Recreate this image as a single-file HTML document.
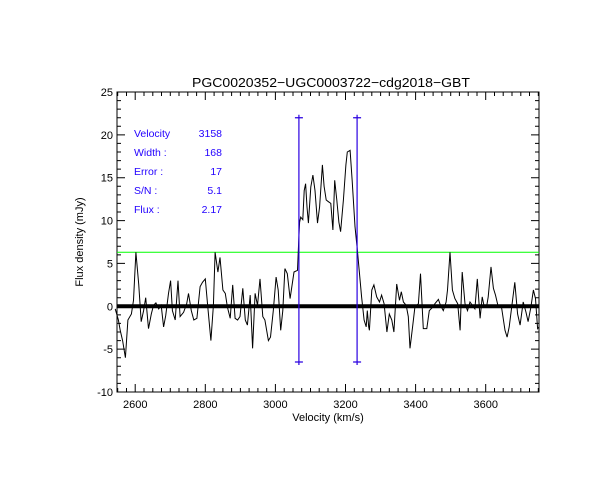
<!DOCTYPE html>
<html><head><meta charset="utf-8"><style>
body{margin:0;background:#fff;}
svg{display:block;font-family:"Liberation Sans",sans-serif;}
</style></head><body>
<svg id="chart" width="612" height="500" viewBox="0 0 612 500">
<rect x="0" y="0" width="612" height="500" fill="#fff"/>
<text x="331" y="87" text-anchor="middle" font-size="13" textLength="278" lengthAdjust="spacingAndGlyphs">PGC0020352−UGC0003722−cdg2018−GBT</text>
<text x="0" y="0" transform="translate(83,242) rotate(-90)" text-anchor="middle" font-size="11">Flux density (mJy)</text>
<text x="328" y="421" text-anchor="middle" font-size="11">Velocity (km/s)</text>
<g id="axes"></g>
<g id="marks"></g>
<g id="legend" font-size="10.5" fill="#2200ff"></g>
</svg>
<script>
const velocities=[2543,2552,2557,2564,2572,2579,2589,2595,2602,2610,2617,2624,2630,2638,2646,2652,2659,2667,2674,2681,2687,2695,2701,2706,2714,2722,2728,2738,2747,2752,2760,2767,2776,2785,2792,2800,2807,2816,2823,2828,2836,2842,2850,2857,2863,2871,2878,2885,2892,2899,2907,2914,2920,2928,2935,2942,2949,2956,2964,2970,2980,2986,2994,3002,3008,3015,3021,3027,3034,3042,3053,3063,3066,3069,3072,3078,3082,3086,3090,3094,3101,3107,3113,3120,3126,3134,3139,3145,3151,3158,3164,3169,3175,3181,3186,3194,3201,3205,3213,3219,3227,3234,3240,3246,3253,3259,3262,3266,3268,3275,3281,3289,3297,3303,3310,3318,3325,3332,3338,3346,3354,3359,3365,3373,3379,3384,3392,3398,3408,3414,3422,3432,3439,3449,3455,3465,3471,3479,3487,3491,3498,3505,3512,3520,3527,3533,3541,3548,3555,3562,3569,3576,3584,3590,3596,3603,3607,3615,3622,3628,3636,3645,3655,3661,3667,3674,3683,3691,3698,3707,3715,3721,3729,3736,3742,3748,3752];
const fluxes=[-0.3,-1.6,-2.8,-4.0,-6.0,-1.6,-0.9,0.7,6.3,2.6,-1.8,-0.5,1.0,-2.6,-0.9,0.1,0.4,-0.3,0.1,-2.4,-1.1,1.5,3.0,-0.5,-1.6,3.0,-1.2,-0.7,0.3,1.5,-0.5,-1.6,-1.4,2.3,2.8,3.2,-0.1,-4.0,0.1,6.3,4.0,5.7,1.9,1.5,-0.1,-1.4,2.5,-1.4,-1.6,-1.2,2.1,-1.6,-2.2,1.3,-4.9,1.5,0.1,3.2,-1.2,-1.6,-4.0,-3.6,-0.5,3.4,1.9,-2.8,-0.5,4.4,3.8,0.9,4.0,4.2,7.3,9.8,10.4,10.1,13.5,14.3,11.6,9.7,13.9,15.3,13.5,9.7,11.6,16.5,14.0,12.4,12.2,12.0,8.9,14.7,12.4,9.8,8.7,12.4,16.5,18.0,18.2,14.6,9.3,6.5,3.8,1.1,-1.6,-2.4,-0.5,-2.4,-2.8,1.9,2.5,1.1,0.5,1.3,0.3,-3.0,-0.9,-1.6,-3.0,2.6,0.7,1.7,0.5,0.1,-1.2,-4.9,-2.2,-0.1,0.3,3.8,-2.6,-2.6,-0.5,-0.1,0.3,0.8,0.1,-0.5,0.5,1.9,6.3,1.9,0.9,0.3,-2.8,4.0,0.3,-0.5,0.5,0.1,-0.3,3.2,-1.4,1.1,-0.1,0.1,1.1,4.6,2.1,1.3,-0.1,-0.1,-2.8,-3.6,-2.4,-0.1,2.8,-0.9,-2.2,0.5,-0.7,-1.8,-0.1,1.9,0.9,-2.6,-2.4];
const xTickLabels=[2600,2800,3000,3200,3400,3600];
const yTickLabels=[-10,-5,0,5,10,15,20,25];
const markerVelocities=[3067,3233];
const markerTop=[22];
const markerBottom=[-6.5];
const thresholdFlux=[6.3];
const legendLabels=["Velocity","Width :","Error :","S/N :","Flux :"];
const legendValues=["3158","168","17","5.1","2.17"];

const L=117,R=539,T=92,B=392,XMIN=2548,XMAX=3752,YMIN=-10,YMAX=25;
const sx=v=>L+(v-XMIN)/(XMAX-XMIN)*(R-L);
const sy=f=>B-(f-YMIN)/(YMAX-YMIN)*(B-T);
const NS='http://www.w3.org/2000/svg';
function mk(tag,parent){const e=document.createElementNS(NS,tag);parent.appendChild(e);return e;}
const axes=document.getElementById('axes'),marks=document.getElementById('marks'),legend=document.getElementById('legend');

const frame=mk('rect',axes);


frame.setAttribute('x',L);frame.setAttribute('y',T);frame.setAttribute('width',R-L);frame.setAttribute('height',B-T);
frame.setAttribute('fill','none');frame.setAttribute('stroke','#000');frame.setAttribute('stroke-width','1');

let td='';
for(let v=2550;v<=XMAX;v+=25){const x=sx(v).toFixed(1);const len=(v%200===0)?8:4;td+=`M${x} ${B}V${B-len}M${x} ${T}V${T+len}`;}
for(let f=YMIN;f<=YMAX;f+=1){const y=sy(f).toFixed(1);const len=(f%5===0)?8:4;td+=`M${L} ${y}H${L+len}M${R} ${y}H${R-len}`;}
const ticks=mk('path',axes);


ticks.setAttribute('d',td);ticks.setAttribute('stroke','#000');ticks.setAttribute('fill','none');

xTickLabels.forEach(v=>{const t=mk('text',axes);


t.setAttribute('x',sx(v));t.setAttribute('y',B+16);t.setAttribute('text-anchor','middle');t.setAttribute('font-size','11');t.textContent=v;});
yTickLabels.forEach(f=>{const t=mk('text',axes);


t.setAttribute('x',L-4);t.setAttribute('y',sy(f)+4);t.setAttribute('text-anchor','end');t.setAttribute('font-size','11');t.textContent=f;});

const zero=mk('line',marks);


zero.setAttribute('x1',L);zero.setAttribute('x2',R);zero.setAttribute('y1',sy(0));zero.setAttribute('y2',sy(0));
zero.setAttribute('stroke','#000');zero.setAttribute('stroke-width','4');

const thr=mk('line',marks);


thr.setAttribute('x1',L);thr.setAttribute('x2',R);thr.setAttribute('y1',sy(thresholdFlux[0]));thr.setAttribute('y2',sy(thresholdFlux[0]));
thr.setAttribute('stroke','#00ff00');thr.setAttribute('stroke-width','1');

const sp=mk('polyline',marks);


sp.setAttribute('points',velocities.map((v,i)=>sx(v).toFixed(1)+','+sy(fluxes[i]).toFixed(1)).join(' '));
sp.setAttribute('fill','none');sp.setAttribute('stroke','#000');sp.setAttribute('stroke-width','1');

markerVelocities.forEach(v=>{const x=sx(v),y1=sy(markerTop[0]),y2=sy(markerBottom[0]);const p=mk('path',marks);


p.setAttribute('d',`M${x} ${y1-3}V${y2+3}M${x-4} ${y1}H${x+4}M${x-4} ${y2}H${x+4}`);p.setAttribute('stroke','#2a00e0');p.setAttribute('stroke-width','1.2');p.setAttribute('fill','none');});

legendLabels.forEach((s,i)=>{const y=137+i*19;const a=mk('text',legend);


a.setAttribute('x',134);a.setAttribute('y',y);a.textContent=s;
const b=mk('text',legend);


b.setAttribute('x',222);b.setAttribute('y',y);b.setAttribute('text-anchor','end');b.textContent=legendValues[i];});
</script>
</body></html>
